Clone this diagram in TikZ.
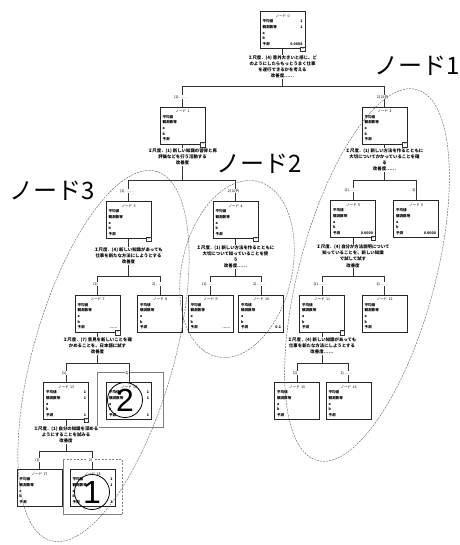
\documentclass[tikz,border=0pt]{standalone}
\usepackage{fontspec}
\setmainfont{Noto Sans CJK JP}
\newfontfamily\numfont{Liberation Sans}
\newcommand{\bxt}[3]{\makebox[40pt][c]{\mdseries ノード #1}\\平均値\hfill#2\\観測数等\hfill#2\\a\\b\\予測\hfill#3}
\tikzset{
 box/.style={draw=black!85, line width=0.9pt, fill=white, minimum width=45pt, minimum height=37pt, text width=40pt, align=left, inner sep=2pt, font=\fontsize{3.6}{5.6}\selectfont\bfseries},
 cond/.style={fill=white, inner sep=0.6pt, align=center, font=\fontsize{4.4}{6.2}\selectfont\bfseries},
 conn/.style={draw=black!80, line width=0.8pt},
 lbl/.style={fill=white, inner sep=0.4pt, font=\fontsize{3.6}{4}\selectfont},
 minus/.style={draw=black!80, line width=0.5pt, fill=white, minimum size=4.5pt, inner sep=0pt, font=\fontsize{4}{4}\selectfont},
 grp/.style={draw=black!60, line width=0.45pt, dash pattern=on 2pt off 1pt},
 big/.style={font=\fontsize{24}{24}\selectfont, inner sep=0pt},
 hl/.style={draw=black!50, line width=1pt},
 hld/.style={draw=black!50, line width=1pt, dash pattern=on 2pt off 1.5pt},
 numc/.style={circle, draw=black, line width=0.8pt, minimum size=35pt, inner sep=0pt, font=\fontsize{32}{32}\numfont},
}
\begin{document}
\begin{tikzpicture}[x=1pt,y=-1pt]
\useasboundingbox[fill=white] (0,0) rectangle (459,545);

% highlight frames
\draw[hl] (97,372) rectangle (163,427);
\draw[hl] (122,514) -- (63,514) -- (63,459);
\draw[hld] (63,459) -- (122,459) -- (122,514);

% boxes
\node[box] (b0) at (282.5,30) {\bxt{0}{1}{0.0008}};
\node[box] (b1) at (182.5,125.5) {\bxt{1}{}{}};
\node[box] (b2) at (384.5,125.5) {\bxt{2}{}{}};
\node[box] (b3) at (128.5,220) {\bxt{3}{}{}};
\node[box] (b4) at (235.5,220) {\bxt{4}{}{}};
\node[box] (b5) at (353,219) {\bxt{5}{}{0.0000}};
\node[box] (b6) at (416,219) {\bxt{6}{}{0.0000}};
\node[box] (b7) at (97.5,313.5) {\bxt{7}{}{……}};
\node[box] (b8) at (160,313.5) {\bxt{8}{}{}};
\node[box] (b9) at (210.5,313.5) {\bxt{9}{}{……}};
\node[box] (b10) at (261,313.5) {\bxt{10}{}{0.1}};
\node[box] (b11) at (322,313.5) {\bxt{11}{}{}};
\node[box] (b12) at (384.5,313.5) {\bxt{12}{}{}};
\node[box] (b13) at (66,401) {\bxt{13}{1}{1}};
\node[box] (b14) at (129,401) {\bxt{14}{1}{1}};
\node[box] (b15) at (297,401) {\bxt{15}{}{}};
\node[box] (b16) at (348.5,401) {\bxt{16}{}{}};
\node[box] (b17) at (39.5,488) {\bxt{17}{}{}};
\node[box] (b18) at (92.5,488) {\bxt{18}{1}{1}};

% condition texts
\node[cond] (c0) at (282.5,67) {Ｉ尺度．(4) 意外大きいと感じ、ど\\のようにしたらもっとうまく仕事\\を遂行できるかを考える\\改善度……};
\node[cond] (c1) at (182.5,157) {Ｉ尺度．(1) 新しい知識の習得と再\\評価などを行う活動する\\改善度};
\node[cond] (c2) at (384.5,160) {Ｉ尺度．(1) 新しい方法を作るとともに\\大切についてかかっていることを確\\る\\改善度……};
\node[cond] (c3) at (128.5,256) {Ｉ尺度．(4) 新しい知識があっても\\仕事を新たな方法にしようとする\\改善度};
\node[cond] (c4) at (235.5,257) {Ｉ尺度．(1) 新しい方法を作るとともに\\大切について知っていることを使\\う\\改善度……};
\node[cond] (c5) at (353,256) {Ｉ尺度．(4) 自分が方法説明について\\知っていることを、新しい知識\\で試して試す\\改善度};
\node[cond] (c7) at (97.5,346) {Ｉ尺度．(7) 意見を新しいことを確\\かめることを、日本語に試す\\改善度};
\node[cond] (c11) at (322,346) {Ｉ尺度．(4) 新しい知識があっても\\仕事を新たな方法にしようとする\\改善度……};
\node[cond] (c13) at (66,435) {Ｉ尺度．(1) 自分の知識を深める\\ようにすることを試みる\\改善度};

% junctions
\coordinate (j0) at (282.5,86);
\coordinate (j1) at (182.5,180);
\coordinate (j2) at (384.5,180);
\coordinate (j3) at (128.5,276);
\coordinate (j4) at (235.5,276);
\coordinate (j5) at (353,276);
\coordinate (j7) at (97.5,363);
\coordinate (j11) at (322,363);
\coordinate (j13) at (66,451);

% connectors
\draw[conn] (b0) -- (c0); \draw[conn] (c0) -- (j0); \draw[conn] (j0) -| (b1); \draw[conn] (j0) -| (b2);
\draw[conn] (b1) -- (c1); \draw[conn] (c1) -- (j1); \draw[conn] (j1) -| (b3); \draw[conn] (j1) -| (b4);
\draw[conn] (b2) -- (c2); \draw[conn] (c2) -- (j2); \draw[conn] (j2) -| (b5); \draw[conn] (j2) -| (b6);
\draw[conn] (b3) -- (c3); \draw[conn] (c3) -- (j3); \draw[conn] (j3) -| (b7); \draw[conn] (j3) -| (b8);
\draw[conn] (b4) -- (c4); \draw[conn] (c4) -- (j4); \draw[conn] (j4) -| (b9); \draw[conn] (j4) -| (b10);
\draw[conn] (b5) -- (c5); \draw[conn] (c5) -- (j5); \draw[conn] (j5) -| (b11); \draw[conn] (j5) -| (b12);
\draw[conn] (b7) -- (c7); \draw[conn] (c7) -- (j7); \draw[conn] (j7) -| (b13); \draw[conn] (j7) -| (b14);
\draw[conn] (b11) -- (c11); \draw[conn] (c11) -- (j11); \draw[conn] (j11) -| (b15); \draw[conn] (j11) -| (b16);
\draw[conn] (b13) -- (c13); \draw[conn] (c13) -- (j13); \draw[conn] (j13) -| (b17); \draw[conn] (j13) -| (b18);

% minus squares
\foreach \b in {b0,b1,b2,b3,b4,b5,b7,b11,b13}
  \node[minus] (m\b) at ([xshift=-2.5pt,yshift=-0.5pt]\b.south east) {−};

% branch labels
\node[lbl] (l1) at (180.5,97) {(1) ……};
\node[lbl] (l2) at (382.5,97) {2) 以外};
\node[lbl] (l3) at (126.5,191) {(1) ……};
\node[lbl] (l4) at (233.5,191) {2) 以外};
\node[lbl] (l5) at (351,190) {(1) ……};
\node[lbl] (l6) at (414,190) {2)};
\node[lbl] (l7) at (95.5,284) {(1)};
\node[lbl] (l8) at (158,284) {2) ……};
\node[lbl] (l9) at (208.5,284) {(1) ……};
\node[lbl] (l10) at (259,284) {2) ……};
\node[lbl] (l11) at (320,284) {(1) ……};
\node[lbl] (l12) at (382.5,284) {2) ……};
\node[lbl] (l13) at (64,373) {(1)};
\node[lbl] (l14) at (127,373) {2)};
\node[lbl] (l15) at (295,373) {(1)};
\node[lbl] (l16) at (346.5,373) {2) ……};
\node[lbl] (l17) at (37.5,460) {(1)};
\node[lbl] (l18) at (90.5,460) {2)};

% circled numbers
\node[numc] (k2) at (125,400) {2};
\node[numc] (k1) at (92,492) {1};

% group ellipses
\draw[grp, rotate around={75:(367,275)}] (367,275) ellipse [x radius=192pt, y radius=68pt];
\draw[grp, rotate around={77:(237,269)}] (237,269) ellipse [x radius=90pt, y radius=55pt];
\draw[grp, rotate around={74:(103.5,356)}] (103.5,356) ellipse [x radius=192pt, y radius=70pt];

% group labels
\node[big] (g1) at (417,66) {ノード1};
\node[big] (g2) at (259.5,164) {ノード2};
\node[big] (g3) at (52.5,191) {ノード3};
\end{tikzpicture}
\end{document}
